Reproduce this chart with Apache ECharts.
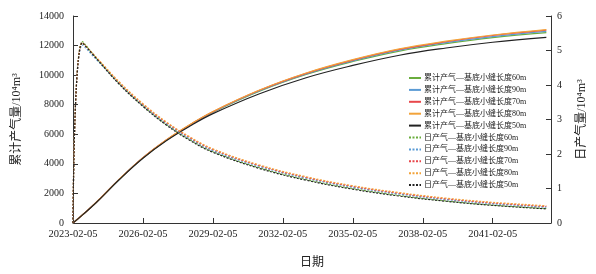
<!DOCTYPE html>
<html lang="zh">
<head>
<meta charset="UTF-8">
<title>累计产气量与日产气量</title>
<script src="https://cdn.jsdelivr.net/npm/echarts@6/dist/echarts.min.js"></script>
<style>
  html, body { margin: 0; padding: 0; background: #fff; }
  #main { width: 596px; height: 274px; }
</style>
</head>
<body>
<div id="main"></div>
<script>
// 时间（距 2023-02-05 的年数）
var years = [0, 0.4, 1, 2, 3, 4, 5, 6, 8, 10, 12, 14, 16, 18, 20.3];
// 横轴刻度标签
var tickLabels = ['2023-02-05', '2026-02-05', '2029-02-05', '2032-02-05', '2035-02-05', '2038-02-05', '2041-02-05'];
// 缝长
var lengths = ['60m', '90m', '70m', '80m', '50m'];
var colors = ['#6aad3d', '#5b9bd5', '#e8474b', '#f2a33a', '#222222'];

// 累计产气量 /10^4 m^3
var cum60 = [0, 540, 1395, 2970, 4405, 5595, 6600, 7490, 8915, 10045, 10920, 11630, 12135, 12540, 12880];
var cum90 = [0, 540, 1395, 2975, 4410, 5605, 6615, 7510, 8945, 10085, 10970, 11690, 12200, 12610, 12960];
var cum70 = [0, 540, 1400, 2980, 4420, 5615, 6630, 7530, 8975, 10120, 11015, 11740, 12260, 12680, 13040];
var cum80 = [0, 540, 1400, 2980, 4420, 5620, 6640, 7545, 8995, 10145, 11045, 11775, 12295, 12715, 13080];
var cum50 = [0, 535, 1390, 2960, 4380, 5560, 6540, 7395, 8745, 9825, 10655, 11345, 11835, 12225, 12560];

// 日产气量 /10^4 m^3
var day60 = [0, 5.26, 4.78, 4.03, 3.40, 2.86, 2.42, 2.07, 1.60, 1.26, 1.00, 0.80, 0.64, 0.52, 0.42];
var day90 = [0, 5.16, 4.74, 4.03, 3.41, 2.88, 2.45, 2.10, 1.64, 1.30, 1.04, 0.84, 0.68, 0.56, 0.46];
var day70 = [0, 5.22, 4.79, 4.06, 3.44, 2.91, 2.48, 2.13, 1.66, 1.32, 1.06, 0.86, 0.70, 0.58, 0.48];
var day80 = [0, 5.22, 4.80, 4.08, 3.46, 2.93, 2.50, 2.15, 1.68, 1.34, 1.08, 0.88, 0.72, 0.60, 0.50];
var day50 = [0, 5.22, 4.77, 4.01, 3.38, 2.84, 2.40, 2.05, 1.58, 1.24, 0.98, 0.78, 0.63, 0.51, 0.41];

var cumList = [cum60, cum90, cum70, cum80, cum50];
var dayList = [day60, day90, day70, day80, day50];

var numFont = '"Liberation Serif", "Noto Sans CJK SC", serif';

function pairs(arr) {
    return arr.map(function (v, i) { return [years[i], v]; });
}

var series = [];
lengths.forEach(function (len, i) {
    series.push({
        name: '累计产气—基底小缝长度' + len,
        type: 'line',
        yAxisIndex: 0,
        data: pairs(cumList[i]),
        smooth: 0.4,
        showSymbol: false,
        symbol: 'none',
        color: colors[i],
        lineStyle: { width: 1.2, color: colors[i] }
    });
});
lengths.forEach(function (len, i) {
    series.push({
        name: '日产气—基底小缝长度' + len,
        type: 'line',
        yAxisIndex: 1,
        data: pairs(dayList[i]),
        smooth: 0.4,
        showSymbol: false,
        symbol: 'none',
        color: colors[i],
        lineStyle: { width: 1.2, color: colors[i], type: [2, 1.5] }
    });
});

var axisCommon = {
    axisLine: { show: true, lineStyle: { color: '#333', width: 1 } },
    axisTick: { show: true, inside: true, length: 5, lineStyle: { color: '#333' } },
    splitLine: { show: false }
};

var option = {
    animation: false,
    grid: { left: 73, right: 45, top: 16, bottom: 43, containLabel: false },
    legend: {
        orient: 'vertical',
        left: 403,
        top: 69,
        itemWidth: 12,
        itemHeight: 8,
        itemGap: 3.9,
        itemStyle: { opacity: 0 },
        textStyle: { fontSize: 8, color: '#222', fontFamily: numFont, padding: [0, 0, 0, -2] },
        data: series.map(function (s) { return s.name; })
    },
    xAxis: Object.assign({}, axisCommon, {
        type: 'value',
        min: 0,
        max: 20.5,
        interval: 3,
        name: '日期',
        nameLocation: 'middle',
        nameGap: 34,
        nameTextStyle: { fontSize: 12, color: '#222', fontFamily: numFont },
        axisLabel: {
            fontSize: 10.5,
            color: '#222',
            fontFamily: numFont,
            margin: 6,
            showMaxLabel: false,
            formatter: function (v) {
                var k = Math.round(v / 3);
                return (Math.abs(v - k * 3) < 1e-6 && tickLabels[k]) ? tickLabels[k] : '';
            }
        }
    }),
    yAxis: [
        Object.assign({}, axisCommon, {
            type: 'value',
            min: 0,
            max: 14000,
            interval: 2000,
            name: '累计产气量/10⁴m³',
            nameLocation: 'middle',
            nameGap: 50,
            nameRotate: 90,
            nameTextStyle: { fontSize: 12, color: '#222', fontFamily: numFont },
            axisLabel: {
                fontSize: 10, color: '#222', fontFamily: numFont, margin: 9,
                formatter: function (v) { return String(v); }
            }
        }),
        Object.assign({}, axisCommon, {
            type: 'value',
            position: 'right',
            min: 0,
            max: 6,
            interval: 1,
            name: '日产气量/10⁴m³',
            nameLocation: 'middle',
            nameGap: 25,
            nameRotate: 90,
            nameTextStyle: { fontSize: 12, color: '#222', fontFamily: numFont },
            axisLabel: { fontSize: 10, color: '#222', fontFamily: numFont, margin: 6 }
        })
    ],
    series: series
};

var myChart = echarts.init(document.getElementById('main'));
myChart.setOption(option);
</script>
</body>
</html>
